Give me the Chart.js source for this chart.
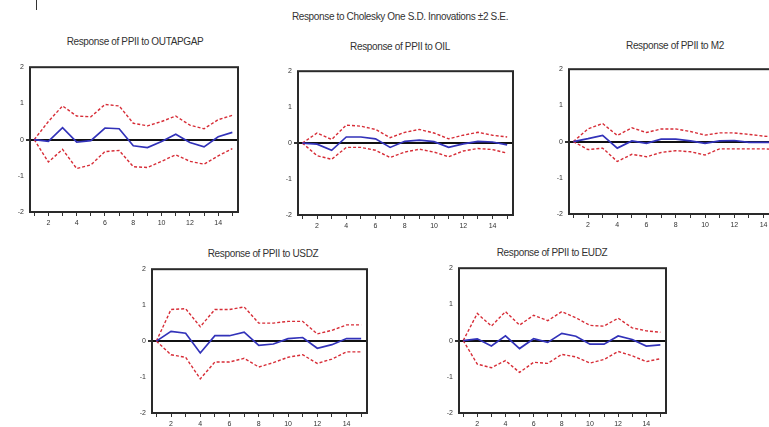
<!DOCTYPE html>
<html>
<head>
<meta charset="utf-8">
<script src="https://cdn.jsdelivr.net/npm/chart.js@4"></script>
<style>
body { margin:0; background:#fff; width:769px; height:427px; overflow:hidden; position:relative; font-family:"Liberation Sans", Arial, sans-serif; }
.ttl { position:absolute; font-size:10px; line-height:12px; color:#333; white-space:nowrap; transform:translateX(-50%); letter-spacing:-0.35px; }
canvas { position:absolute; }
.mark { position:absolute; left:36px; top:0; width:1px; height:10px; background:#333; }
</style>
</head>
<body>
<div class="mark"></div>
<div class="ttl" style="left:400px;top:11px;">Response to Cholesky One S.D. Innovations ±2 S.E.</div>

<script>
// periods and axis ticks
const periods = [1,2,3,4,5,6,7,8,9,10,11,12,13,14,15]
const yTicks = [-2,-1,0,1,2]

const titles = ['Response of PPII to OUTAPGAP','Response of PPII to OIL','Response of PPII to M2','Response of PPII to USDZ','Response of PPII to EUDZ']

// response of PPII to OUTAPGAP
const outapgapResp = [0,-0.05,0.33,-0.07,-0.03,0.32,0.3,-0.17,-0.22,-0.05,0.15,-0.08,-0.2,0.08,0.2]
const outapgapUp = [0,0.5,0.93,0.65,0.63,0.97,0.93,0.45,0.38,0.5,0.65,0.4,0.3,0.55,0.67]
const outapgapLo = [0,-0.62,-0.27,-0.8,-0.7,-0.33,-0.3,-0.75,-0.77,-0.6,-0.42,-0.6,-0.68,-0.45,-0.25]

// response of PPII to OIL
const oilResp = [0,-0.03,-0.2,0.17,0.17,0.12,-0.12,0.05,0.08,0.04,-0.12,-0.02,0.05,0.03,-0.05]
const oilUp = [0,0.28,0.1,0.5,0.47,0.38,0.15,0.3,0.38,0.28,0.12,0.22,0.3,0.22,0.17]
const oilLo = [0,-0.35,-0.45,-0.12,-0.12,-0.2,-0.4,-0.25,-0.17,-0.25,-0.38,-0.22,-0.15,-0.18,-0.28]

// response of PPII to M2
const m2Resp = [0,0.08,0.17,-0.18,0.02,-0.05,0.07,0.07,0.02,-0.05,0.02,0.03,-0.02,-0.02,-0.02]
const m2Up = [0,0.35,0.5,0.17,0.38,0.25,0.35,0.35,0.28,0.18,0.24,0.24,0.2,0.15,0.13]
const m2Lo = [0,-0.22,-0.18,-0.55,-0.35,-0.42,-0.3,-0.25,-0.28,-0.37,-0.2,-0.2,-0.2,-0.2,-0.22]

// response of PPII to USDZ
const usdzResp = [0,0.27,0.22,-0.33,0.15,0.15,0.25,-0.12,-0.08,0.07,0.1,-0.2,-0.1,0.07,0.07]
const usdzUp = [0,0.88,0.9,0.4,0.88,0.88,0.95,0.5,0.5,0.55,0.55,0.2,0.3,0.45,0.45]
const usdzLo = [0,-0.38,-0.45,-1.05,-0.58,-0.58,-0.48,-0.72,-0.6,-0.45,-0.38,-0.62,-0.5,-0.3,-0.3]

// response of PPII to EUDZ
const eudzResp = [0,0.05,-0.15,0.13,-0.22,0.05,-0.05,0.2,0.12,-0.1,-0.1,0.13,0.03,-0.15,-0.12]
const eudzUp = [0,0.75,0.4,0.8,0.43,0.7,0.55,0.8,0.63,0.42,0.4,0.62,0.35,0.27,0.23]
const eudzLo = [0,-0.65,-0.75,-0.55,-0.88,-0.6,-0.63,-0.38,-0.45,-0.62,-0.52,-0.3,-0.42,-0.58,-0.5]

const series = [
    [outapgapResp, outapgapUp, outapgapLo],
    [oilResp, oilUp, oilLo],
    [m2Resp, m2Up, m2Lo],
    [usdzResp, usdzUp, usdzLo],
    [eudzResp, eudzUp, eudzLo],
]

// plot boxes: left, top, right, bottom, title x, title y
const boxes = [
    [30, 63, 238, 212, 135, 36],
    [298, 67, 513, 215, 400, 41],
    [569, 65, 784, 214, 675, 40],
    [152, 265, 367, 413, 263, 248],
    [459, 264, 666, 413, 552, 247],
]

const frame = {
    id: 'frame',
    afterDraw(chart) {
        const a = chart.chartArea, c = chart.ctx
        c.save()
        c.strokeStyle = '#2a2a2a'
        c.lineWidth = 2
        c.strokeRect(a.left, a.top, a.right - a.left, a.bottom - a.top)
        c.restore()
    }
}

const toPts = arr => arr.map((v, i) => ({x: periods[i], y: v}))

boxes.forEach((b, k) => {
    const t = document.createElement('div')
    t.className = 'ttl'
    t.style.left = b[4] + 'px'
    t.style.top = b[5] + 'px'
    t.textContent = titles[k]
    document.body.appendChild(t)

    const cv = document.createElement('canvas')
    const w = b[2] - b[0] + 24, h = b[3] - b[1] + 20
    cv.width = w; cv.height = h
    cv.style.left = (b[0] - 22) + 'px'
    cv.style.top = (b[1] - 2) + 'px'
    cv.style.width = w + 'px'; cv.style.height = h + 'px'
    document.body.appendChild(cv)

    const s = series[k]
    new Chart(cv.getContext('2d'), {
        type: 'line',
        data: {
            datasets: [
                {label: 'response', data: toPts(s[0]), borderColor: 'rgb(50,50,185)', borderWidth: 1.7, pointRadius: 0, tension: 0},
                {label: '+2 S.E.', data: toPts(s[1]), borderColor: 'rgb(215,45,55)', borderWidth: 1.4, borderDash: [3, 2], pointRadius: 0, tension: 0},
                {label: '-2 S.E.', data: toPts(s[2]), borderColor: 'rgb(215,45,55)', borderWidth: 1.4, borderDash: [3, 2], pointRadius: 0, tension: 0},
            ]
        },
        options: {
            responsive: false,
            animation: false,
            devicePixelRatio: 1,
            layout: {padding: {top: 2, right: 2}},
            plugins: {legend: {display: false}, tooltip: {enabled: false}},
            scales: {
                x: {
                    type: 'linear', min: 0.7, max: 15.4,
                    afterBuildTicks: sc => { sc.ticks = periods.map(v => ({value: v})) },
                    afterFit: sc => { sc.height = 18 },
                    ticks: {autoSkip: false, maxRotation: 0, padding: 3, color: '#333', font: {size: 7, family: 'Liberation Sans'},
                        callback: v => v % 2 === 0 ? v : ''},
                    grid: {drawOnChartArea: false, tickLength: 4, tickColor: '#333', tickWidth: 1},
                    border: {display: false}
                },
                y: {
                    min: -2, max: 2,
                    afterBuildTicks: sc => { sc.ticks = yTicks.map(v => ({value: v})) },
                    afterFit: sc => { sc.width = 22 },
                    ticks: {padding: 2, color: '#333', font: {size: 7, family: 'Liberation Sans'}},
                    grid: {
                        tickLength: 4, tickColor: '#333',
                        color: c => c.tick && c.tick.value === 0 ? '#111' : 'rgba(0,0,0,0)',
                        lineWidth: c => c.tick && c.tick.value === 0 ? 2 : 0
                    },
                    border: {display: false}
                }
            }
        },
        plugins: [frame]
    })
})
</script>
</body>
</html>
